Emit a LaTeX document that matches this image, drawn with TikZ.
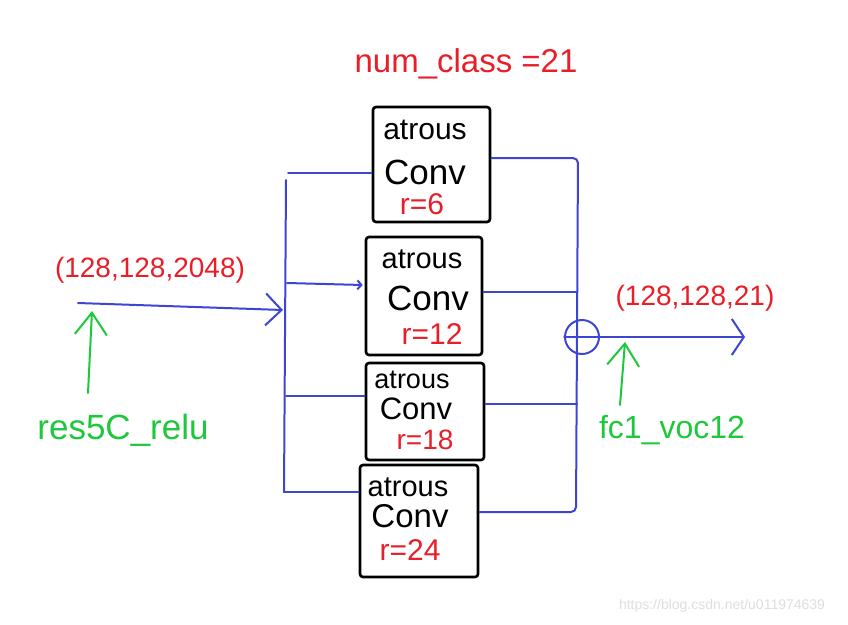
\documentclass[tikz,border=0pt]{standalone}
\usepackage{fontspec}
\setmainfont{Liberation Sans}
\usetikzlibrary{arrows.meta,calc}
\definecolor{pblue}{RGB}{60,70,210}
\definecolor{pred}{RGB}{232,30,40}
\definecolor{pgreen}{RGB}{30,200,60}
\newcommand{\fsz}[1]{\fontsize{#1}{#1}\selectfont}
\begin{document}
\begin{tikzpicture}[x=1pt,y=-1pt,
  convbox/.style={draw=black,line width=2.6pt,rounded corners=3pt,inner sep=0pt},
  wire/.style={draw=pblue,line width=2pt,line cap=round,line join=round},
  bigbarb/.style={-{Straight Barb[length=16pt,width=32pt]}},
  smallbarb/.style={-{Straight Barb[length=4pt,width=9pt]}},
  greenarrow/.style={draw=pgreen,line width=2pt,line cap=round,-{Straight Barb[length=22pt,width=32pt]}},
  redlbl/.style={text=pred,inner sep=0pt},
  greenlbl/.style={text=pgreen,inner sep=0pt},
  boxtxt/.style={inner sep=0pt}]
\fill[white] (0,0) rectangle (848,624);
\useasboundingbox (0,0) rectangle (848,624);

% title
\node[redlbl,font=\fsz{33}] (title) at (466,64) {num\_class =21};

% boxes
\node[convbox,minimum width=117pt,minimum height=115pt] (b1) at (431.5,164.5) {};
\node[convbox,minimum width=116pt,minimum height=118pt] (b2) at (424,296) {};
\node[convbox,minimum width=118pt,minimum height=97pt] (b3) at (425,411.5) {};
\node[convbox,minimum width=118pt,minimum height=112pt] (b4) at (419,521) {};

\node[boxtxt,font=\fsz{30}] (b1a) at (425,130) {atrous};
\node[boxtxt,font=\fsz{35}] (b1c) at (425,172) {Conv};
\node[boxtxt,font=\fsz{30},text=pred] (b1r) at (422,204) {r=6};

\node[boxtxt,font=\fsz{29}] (b2a) at (422,259) {atrous};
\node[boxtxt,font=\fsz{35}] (b2c) at (428,298) {Conv};
\node[boxtxt,font=\fsz{30},text=pred] (b2r) at (432,334) {r=12};

\node[boxtxt,font=\fsz{27}] (b3a) at (412,380) {atrous};
\node[boxtxt,font=\fsz{31}] (b3c) at (416,409) {Conv};
\node[boxtxt,font=\fsz{28},text=pred] (b3r) at (425,440) {r=18};

\node[boxtxt,font=\fsz{29}] (b4a) at (408,487) {atrous};
\node[boxtxt,font=\fsz{33}] (b4c) at (410,516) {Conv};
\node[boxtxt,font=\fsz{30},text=pred] (b4r) at (410,550) {r=24};

% left bus
\coordinate (Ltop) at (286,180);
\coordinate (Lbot) at (284,492);
\coordinate (L1) at (288,173);
\coordinate (L2) at (287,283);
\coordinate (L3) at (286,396);
\draw[wire] (Ltop) -- (Lbot);
\draw[wire] (L1) -- (L1 -| b1.west);
\draw[wire,smallbarb] (L2) -- ($(L2 -| b2.west)+(-2,2)$);
\draw[wire] (L3) -- (L3 -| b3.west);
\draw[wire] (Lbot) -- (Lbot -| b4.west);

% right bus
\coordinate (R1) at (578,158);
\coordinate (Rbot) at (576,512);
\coordinate (R2) at (577,292);
\coordinate (R3) at (577,404);
\draw[wire,rounded corners=5pt] (R1 -| b1.east) -- (R1) -- (Rbot) -- (Rbot -| b4.east);
\draw[wire] (R2 -| b2.east) -- (R2);
\draw[wire] (R3 -| b3.east) -- (R3);

% sum circle
\node[draw=pblue,line width=2pt,circle,minimum size=34pt,inner sep=0pt] (sum) at (582,337) {};

% input arrow
\coordinate (in0) at (78,303);
\coordinate (inbus) at (283,310);
\draw[wire,bigbarb] (in0) -- (inbus);
\node[redlbl,font=\fsz{28}] (inlbl) at (150,270) {(128,128,2048)};

% output arrow
\coordinate (outtip) at (745,337);
\draw[wire,-{Straight Barb[length=12pt,width=36pt]}] (sum.west) -- (outtip);
\node[redlbl,font=\fsz{28}] (outlbl) at (695,298) {(128,128,21)};

% green labels
\node[greenlbl,font=\fsz{35}] (res) at (123,430) {res5C\_relu};
\coordinate (resarrow) at (92,311);
\draw[greenarrow] (88,393) -- (resarrow);

\node[greenlbl,font=\fsz{32}] (fc) at (672,430) {fc1\_voc12};
\coordinate (fcarrow) at (625,342);
\draw[greenarrow] (620,405) -- (fcarrow);

% watermark
\node[text=black!13,font=\fsz{14},inner sep=0pt] (wm) at (722,606) {https://blog.csdn.net/u011974639};
\end{tikzpicture}
\end{document}
